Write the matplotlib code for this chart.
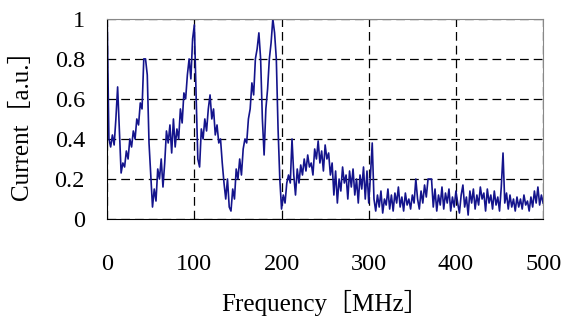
import matplotlib
matplotlib.use("Agg")
import matplotlib.pyplot as plt
import numpy as np

# spectrum, 2 MHz step
freq = np.arange(0, 501, 2)
current = [
    1.00, 0.40, 0.36, 0.42, 0.37, 0.50, 0.66, 0.45, 0.23, 0.28,
    0.26, 0.34, 0.30, 0.40, 0.36, 0.44, 0.40, 0.50, 0.47, 0.58,
    0.55, 0.80, 0.80, 0.72, 0.38, 0.22, 0.06, 0.15, 0.09, 0.25,
    0.20, 0.30, 0.16, 0.28, 0.44, 0.38, 0.47, 0.33, 0.50, 0.36,
    0.45, 0.40, 0.55, 0.48, 0.63, 0.60, 0.72, 0.80, 0.70, 0.90,
    0.97, 0.62, 0.30, 0.26, 0.45, 0.40, 0.50, 0.44, 0.55, 0.62,
    0.50, 0.55, 0.42, 0.47, 0.38, 0.40, 0.28, 0.18, 0.10, 0.20,
    0.06, 0.04, 0.15, 0.10, 0.25, 0.20, 0.30, 0.22, 0.35, 0.40,
    0.38, 0.50, 0.55, 0.68, 0.62, 0.80, 0.85, 0.93, 0.80, 0.50,
    0.32, 0.55, 0.65, 0.80, 0.88, 1.00, 0.93, 0.80, 0.45, 0.20,
    0.05, 0.12, 0.08, 0.18, 0.22, 0.18, 0.40, 0.22, 0.12, 0.25,
    0.18, 0.27, 0.22, 0.30, 0.24, 0.32, 0.26, 0.28, 0.22, 0.35,
    0.30, 0.39, 0.28, 0.34, 0.24, 0.37, 0.30, 0.33, 0.22, 0.28,
    0.12, 0.24, 0.08, 0.20, 0.14, 0.26, 0.18, 0.22, 0.10, 0.24,
    0.16, 0.25, 0.12, 0.20, 0.08, 0.22, 0.15, 0.26, 0.10, 0.24,
    0.08, 0.22, 0.38, 0.10, 0.04, 0.12, 0.06, 0.14, 0.03, 0.10,
    0.07, 0.15, 0.05, 0.12, 0.04, 0.13, 0.08, 0.16, 0.06, 0.11,
    0.04, 0.13, 0.07, 0.10, 0.05, 0.12, 0.08, 0.20, 0.10, 0.05,
    0.14, 0.08, 0.17, 0.11, 0.20, 0.20, 0.20, 0.06, 0.15, 0.04,
    0.12, 0.07, 0.16, 0.05, 0.13, 0.08, 0.15, 0.04, 0.11, 0.06,
    0.14, 0.08, 0.03, 0.12, 0.17, 0.06, 0.11, 0.02, 0.14, 0.08,
    0.15, 0.05, 0.12, 0.07, 0.16, 0.10, 0.13, 0.04, 0.15, 0.08,
    0.12, 0.05, 0.14, 0.07, 0.11, 0.04, 0.16, 0.33, 0.08, 0.13,
    0.05, 0.12, 0.06, 0.10, 0.04, 0.11, 0.06, 0.10, 0.05, 0.12,
    0.07, 0.09, 0.04, 0.11, 0.06, 0.14, 0.08, 0.16, 0.07, 0.12,
    0.08,
]
xticks = [0, 100, 200, 300, 400, 500]
yticks = [0, 0.2, 0.4, 0.6, 0.8, 1]
ytick_labels = ["0", "0.2", "0.4", "0.6", "0.8", "1"]

fonts = ["Liberation Serif", "Noto Sans CJK JP"]
plt.rcParams["font.family"] = fonts
plt.rcParams["font.size"] = 17.5

fig = plt.figure(figsize=(5.64, 3.25), dpi=100)
ax = fig.add_axes([0.190, 0.326, 0.773, 0.616])

ax.plot(freq, current, color="#14148c", lw=1.2)

ax.set_xlim(0, 500)
ax.set_ylim(0, 1)
ax.set_xticks(xticks)
ax.set_yticks(yticks)
ax.set_yticklabels(ytick_labels)
ax.tick_params(length=0)
ax.tick_params(axis="x", pad=25)
ax.tick_params(axis="y", pad=16)

ax.grid(True, color="black", lw=0.9, linestyle=(0, (7, 4)))
for s in ["top", "right"]:
    ax.spines[s].set_color("#888888")
for s in ["left", "bottom"]:
    ax.spines[s].set_color("black")

ax.set_xlabel("Frequency［MHz］", family=fonts, fontsize=18)
ax.set_ylabel("Current［a.u.］", family=fonts, fontsize=18)
ax.xaxis.set_label_coords(0.5, -0.355)
ax.yaxis.set_label_coords(-0.17, 0.5)

fig.savefig("out.png", dpi=100)
